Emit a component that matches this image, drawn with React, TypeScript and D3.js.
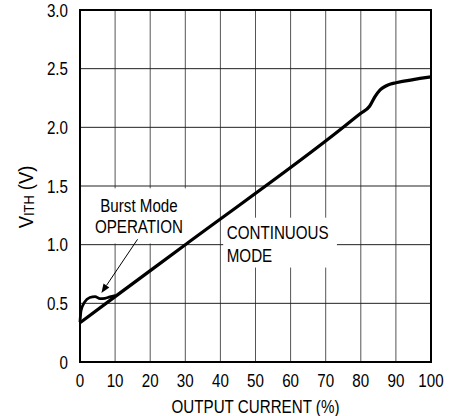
import React from "react";
import * as d3 from "d3";

// ---- data ----
const xTicks = [0, 10, 20, 30, 40, 50, 60, 70, 80, 90, 100];
const yTicks = [0, 0.5, 1.0, 1.5, 2.0, 2.5, 3.0];
const yTickLabels = ["0", "0.5", "1.0", "1.5", "2.0", "2.5", "3.0"];

// continuous-mode curve: output current (%) vs VITH (V)
const contX = [0, 10, 30, 75, 80, 82.5, 84, 85.5, 87, 88.5, 90, 100];
const contY = [0.335, 0.557, 1.0, 2.0, 2.12, 2.18, 2.26, 2.32, 2.35, 2.37, 2.38, 2.43];

// burst mode loop
const burstX = [0, 0.3, 1.3, 2.8, 4.3, 5.7, 7.1, 8.5, 10];
const burstY = [0.34, 0.44, 0.51, 0.55, 0.557, 0.54, 0.543, 0.555, 0.565];

// annotations (data coordinates)
const arrowFrom = [16.4, 1.046];
const arrowTo = [6.1, 0.588];

const W = 461;
const H = 416;
const M = { left: 80, right: 30, top: 10, bottom: 54 };
const FONT = "'Liberation Sans', Arial, sans-serif";
const FS = 18.5;
const SX = 0.82;

function NText({
  x,
  y,
  anchor = "start",
  rotate = 0,
  sx = SX,
  dy,
  children,
}: {
  x: number;
  y: number;
  anchor?: string;
  rotate?: number;
  sx?: number;
  dy?: string;
  children: React.ReactNode;
}) {
  return (
    <g transform={`translate(${x},${y}) rotate(${rotate}) scale(${sx},1)`}>
      <text x={0} y={0} dy={dy} fontSize={FS} textAnchor={anchor} fill="#000">
        {children}
      </text>
    </g>
  );
}

export default function App() {
  const x = d3.scaleLinear().domain([0, 100]).range([M.left, W - M.right]);
  const y = d3.scaleLinear().domain([0, 3]).range([H - M.bottom, M.top]);

  const line = d3
    .line<[number, number]>()
    .x((d) => x(d[0]))
    .y((d) => y(d[1]))
    .curve(d3.curveMonotoneX);

  const contPts = contX.map((v, i) => [v, contY[i]] as [number, number]);
  const burstPts = burstX.map((v, i) => [v, burstY[i]] as [number, number]);

  const ax1 = x(arrowFrom[0]);
  const ay1 = y(arrowFrom[1]);
  const ax2 = x(arrowTo[0]);
  const ay2 = y(arrowTo[1]);
  const ang = Math.atan2(ay2 - ay1, ax2 - ax1);
  const hl = 9;
  const hw = 3.5;
  const bx = ax2 - hl * Math.cos(ang);
  const by = ay2 - hl * Math.sin(ang);
  const head = `M${ax2},${ay2} L${bx + hw * Math.sin(ang)},${by - hw * Math.cos(ang)} L${bx - hw * Math.sin(ang)},${by + hw * Math.cos(ang)} Z`;

  const [x0, x1] = x.range();
  const [y0, y1] = y.range();

  return (
    <svg
      width={W}
      height={H}
      style={{ position: "absolute", left: 0, top: 0, background: "#fff" }}
      fontFamily={FONT}
    >
      <rect x={0} y={0} width={W} height={H} fill="#fff" />
      {/* grid */}
      {xTicks.slice(1, -1).map((t) => (
        <line key={"gx" + t} x1={x(t)} x2={x(t)} y1={y1} y2={y0} stroke="#555" strokeWidth={1} />
      ))}
      {yTicks.slice(1, -1).map((t) => (
        <line key={"gy" + t} x1={x0} x2={x1} y1={y(t)} y2={y(t)} stroke="#222" strokeWidth={1} />
      ))}

      {/* label boxes masking grid */}
      <rect x={x(0.5)} y={y(1.48)} width={x(32.5) - x(0.5)} height={y(1.01) - y(1.48)} fill="#fff" />
      <rect x={x(40.8)} y={y(1.23)} width={x(73.2) - x(40.8)} height={y(0.805) - y(1.23)} fill="#fff" />

      {/* frame */}
      <rect x={x0} y={y1} width={x1 - x0} height={y0 - y1} fill="none" stroke="#000" strokeWidth={2} />

      {/* curves */}
      <path d={line(burstPts) || ""} fill="none" stroke="#000" strokeWidth={2.8} strokeLinejoin="round" />
      <path d={line(contPts) || ""} fill="none" stroke="#000" strokeWidth={3.2} strokeLinejoin="round" />

      {/* arrow */}
      <line x1={ax1} y1={ay1} x2={bx} y2={by} stroke="#000" strokeWidth={1} />
      <path d={head} fill="#000" />

      {/* annotation text */}
      <NText x={x(16.8)} y={y(1.28)} anchor="middle">Burst Mode</NText>
      <NText x={x(16.8)} y={y(1.097)} anchor="middle">OPERATION</NText>
      <NText x={x(41.8)} y={y(1.045)}>CONTINUOUS</NText>
      <NText x={x(41.8)} y={y(0.855)}>MODE</NText>

      {/* x ticks */}
      {xTicks.map((t) => (
        <NText key={"tx" + t} x={x(t)} y={y0 + 25} anchor="middle">
          {t}
        </NText>
      ))}
      {/* y ticks */}
      {yTicks.map((t, i) => (
        <NText key={"ty" + t} x={x0 - 12} y={y(t)} dy="0.36em" anchor="end">
          {yTickLabels[i]}
        </NText>
      ))}

      {/* axis titles */}
      <NText x={(x0 + x1) / 2} y={H - 3} anchor="middle">
        OUTPUT CURRENT (%)
      </NText>
      <g transform={`translate(33, 197) rotate(-90) scale(0.92,1)`}>
        <text x={0} y={0} fontSize={20} textAnchor="middle" fill="#000">
          V<tspan fontSize={14} dy={1}>ITH</tspan>
          <tspan dy={-1}> (V)</tspan>
        </text>
      </g>
    </svg>
  );
}
